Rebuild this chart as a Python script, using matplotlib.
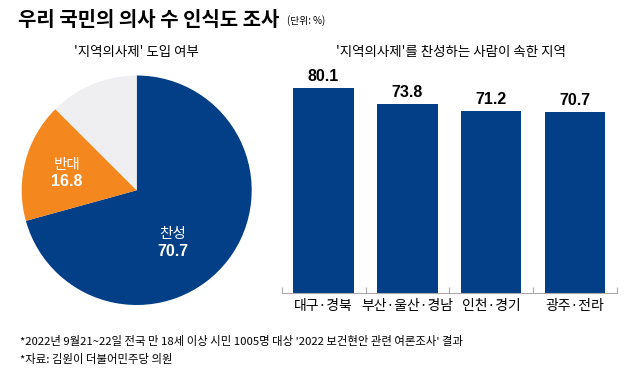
import matplotlib.pyplot as plt

plt.rcParams['font.family'] = ['Noto Sans CJK KR', 'DejaVu Sans']

pie_labels = ["찬성", "반대", ""]
pie_values = [70.7, 16.8, 12.5]
pie_colors = ["#033f87", "#f5871f", "#efeff1"]

regions = ["대구·경북", "부산·울산·경남", "인천·경기", "광주·전라"]
support = [80.1, 73.8, 71.2, 70.7]

W, H = 640, 384
fig = plt.figure(figsize=(6.4, 3.84), dpi=100)
fig.patch.set_facecolor("white")

def px(x0, y0, x1, y1):
    # pixel box (top-left origin) -> figure fraction
    return [x0 / W, 1 - y1 / H, (x1 - x0) / W, (y1 - y0) / H]

# pie
ax1 = fig.add_axes(px(21.7, 75.5, 251.7, 305))
ax1.pie(pie_values, colors=pie_colors, startangle=90, counterclock=False,
        radius=1, wedgeprops=dict(linewidth=0))
ax1.set_xlim(-1, 1)
ax1.set_ylim(-1, 1)
ax1.set_aspect("auto")
ax1.axis("off")

fig.text(67 / W, 1 - 165 / H, "반대", color="white", fontsize=10.5,
         ha="center", va="center")
fig.text(67 / W, 1 - 182 / H, f"{pie_values[1]}", color="white", fontsize=11.5,
         fontweight="bold", ha="center", va="center", family="Liberation Sans")
fig.text(173 / W, 1 - 234 / H, "찬성", color="white", fontsize=10.5,
         ha="center", va="center")
fig.text(173 / W, 1 - 251 / H, f"{pie_values[0]}", color="white", fontsize=11.5,
         fontweight="bold", ha="center", va="center", family="Liberation Sans")

# bars
base = 292.5
scale = 2.55
top = 60
ax2 = fig.add_axes(px(281.7, top, 617, base))
x = range(len(regions))
ax2.bar(x, support, width=0.72, color="#033f87")
ax2.set_xlim(-0.5, len(regions) - 0.5)
ax2.set_ylim(0, (base - top) / scale)
for s in ["top", "right", "left"]:
    ax2.spines[s].set_visible(False)
ax2.spines["bottom"].set_color("#aaaaaa")
ax2.spines["bottom"].set_linewidth(0.8)
ax2.set_yticks([])
ax2.set_xticks(list(x))
ax2.set_xticklabels(regions, fontsize=10)
ax2.tick_params(axis="x", which="major", length=0, pad=5)
ax2.set_xticks([i - 0.5 for i in range(len(regions) + 1)], minor=True)
ax2.tick_params(axis="x", which="minor", direction="in", length=4,
                color="#aaaaaa", width=0.8)
for i, v in enumerate(support):
    ax2.text(i, v + 1.5, f"{v}", ha="center", va="bottom", fontsize=11.5,
             fontweight="bold", family="Liberation Sans")

# titles
fig.text(18 / W, 1 - 19 / H, "우리 국민의 의사 수 인식도 조사",
         fontsize=14.4, fontweight="bold", ha="left", va="center")
fig.text(287 / W, 1 - 21 / H, "(단위: %)", fontsize=7, ha="left", va="center")
fig.text(136 / W, 1 - 52 / H, "'지역의사제' 도입 여부", fontsize=9.7,
         ha="center", va="center")
fig.text(451 / W, 1 - 52 / H, "'지역의사제'를 찬성하는 사람이 속한 지역",
         fontsize=9.7, ha="center", va="center")

fig.text(20 / W, 1 - 341 / H,
         "*2022년 9월21~22일 전국 만 18세 이상 시민 1005명 대상 '2022 보건현안 관련 여론조사' 결과",
         fontsize=8.2, ha="left", va="center")
fig.text(20 / W, 1 - 360 / H, "*자료: 김원이 더불어민주당 의원", fontsize=8.2,
         ha="left", va="center")

fig.savefig("out.png", dpi=100)
